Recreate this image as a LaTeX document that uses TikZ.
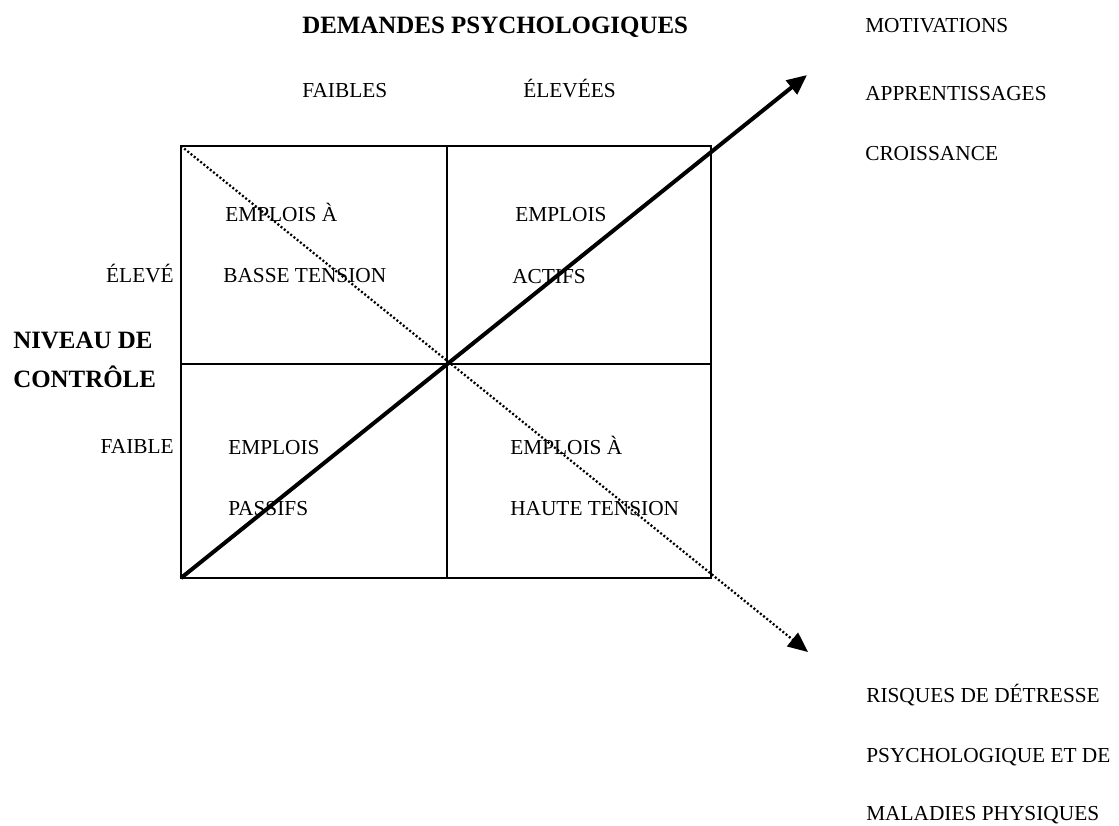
\documentclass[tikz,border=0pt]{standalone}
\usepackage{fontspec}
\setmainfont{Liberation Serif}
\usetikzlibrary{arrows.meta}
\tikzset{
  txt/.style={inner sep=0pt,anchor=base west,font=\fontsize{16}{19}\selectfont},
  txtr/.style={txt,anchor=base east},
  titre/.style={txt,font=\fontsize{18.7}{22}\selectfont\bfseries},
  grille/.style={line width=1.9pt},
  axe/.style={line width=3pt,-{Triangle[length=15pt,width=13pt]}},
  risque/.style={line width=1.7pt,dash pattern=on 1.5pt off 1.6pt,-{Triangle[length=15pt,width=13pt]}}
}
\begin{document}
\begin{tikzpicture}[x=0.75pt,y=-0.75pt]
                \useasboundingbox (0,0) rectangle (1119,825);
                \coordinate (hg) at (181,146);
                \coordinate (hm) at (447,146);
                \coordinate (hd) at (711,146);
                \coordinate (mg) at (181,364);
                \coordinate (md) at (711,364);
                \coordinate (bg) at (181,578);
                \coordinate (bm) at (447,578);
                \coordinate (bd) at (711,578);
                \coordinate (p1) at (807,75);
                \coordinate (p2) at (808,652);
                \draw[grille] (hg) rectangle (bd);
                \draw[grille] (hm) -- (bm);
                \draw[grille] (mg) -- (md);
                \path[risque] (hg) edge (p2);
                \path[axe] (bg) edge (p1);
                % titres
                \node[titre] (dem) at (302,33) {DEMANDES PSYCHOLOGIQUES};
                \node[titre] (niv1) at (13,348) {NIVEAU DE};
                \node[titre] (niv2) at (13,387) {CONTRÔLE};
                \node[txt] (fbs) at (302,97) {FAIBLES};
                \node[txt] (elv) at (523,97) {ÉLEVÉES};
                \node[txtr] (elev) at (174,282) {ÉLEVÉ};
                \node[txtr] (fbl) at (174,453) {FAIBLE};
                % cases
                \node[txt] (c1a) at (225,221) {EMPLOIS À};
                \node[txt] (c1b) at (223,282) {BASSE TENSION};
                \node[txt] (c2a) at (515,221) {EMPLOIS};
                \node[txt] (c2b) at (512,283) {ACTIFS};
                \node[txt] (c3a) at (228,454) {EMPLOIS};
                \node[txt] (c3b) at (228,515) {PASSIFS};
                \node[txt] (c4a) at (510,454) {EMPLOIS À};
                \node[txt] (c4b) at (510,515) {HAUTE TENSION};
                % effets
                \node[txt] (mot) at (865,32) {MOTIVATIONS};
                \node[txt] (app) at (865,100) {APPRENTISSAGES};
                \node[txt] (cro) at (865,160) {CROISSANCE};
                \node[txt] (ris1) at (866,702) {RISQUES DE DÉTRESSE};
                \node[txt] (ris2) at (866,762) {PSYCHOLOGIQUE ET DE};
                \node[txt] (ris3) at (866,820) {MALADIES PHYSIQUES};
\end{tikzpicture}
\end{document}
